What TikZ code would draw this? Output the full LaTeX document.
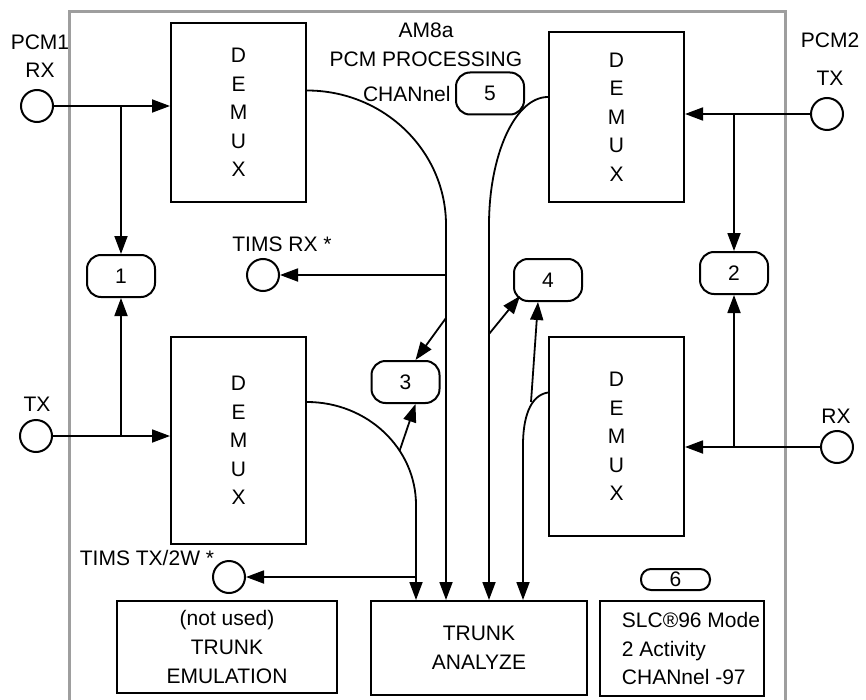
\documentclass[tikz,border=0pt]{standalone}
\usepackage{fontspec}
\setmainfont{Liberation Sans}
\usetikzlibrary{arrows.meta,positioning,calc}

\tikzset{
  sig/.style={-{Triangle[length=9pt,width=6.5pt]},line width=0.9pt},
  blk/.style={draw,line width=1pt,align=center,inner sep=2pt},
  chan/.style={draw,line width=1pt,rounded corners=7pt,
               minimum width=34pt,minimum height=21pt,inner sep=0pt},
  port/.style={draw,circle,line width=1pt,minimum size=16pt,inner sep=0pt},
  txt/.style={align=center,inner sep=0pt},
  frame/.style={draw=black!38,line width=1.5pt}
}

\begin{document}
\begin{tikzpicture}[x=0.5pt,y=-0.5pt,font=\fontsize{10.5}{14.3}\selectfont]
  \useasboundingbox (0,0) rectangle (866,700);
  %% card outline
  \draw[frame] (69,706) -- (69,12) -- (785,12) -- (785,706);

  %% title
  \node[txt] (title) at (426,45) {AM8a\\PCM PROCESSING};

  %% ports
  \node[port] (p1rx) at (37,106) {};
  \node[port] (p1tx) at (36,436) {};
  \node[port] (p2tx) at (827,114) {};
  \node[port] (p2rx) at (837,447) {};
  \node[port] (timsrx) at (263,275) {};
  \node[port] (timstx) at (229,577) {};
  \node[txt] (l1rx) at (40,56) {PCM1\\RX};
  \node[txt] (l1tx) at (37,404) {TX};
  \node[txt] (l2tx) at (830,59) {PCM2\\[4.8pt]TX};
  \node[txt] (l2rx) at (836,416) {RX};
  \node[txt] (ltimsrx) at (282,244) {TIMS RX *};
  \node[txt] (ltimstx) at (147,558) {TIMS TX/2W *};

  %% demux blocks
  \node[blk,minimum width=67.5pt,minimum height=89.5pt] (dmx1) at (238.5,112.5) {D\\E\\M\\U\\X};
  \node[blk,minimum width=67.5pt,minimum height=85pt] (dmx2) at (616.5,117) {D\\E\\M\\U\\X};
  \node[blk,minimum width=67.5pt,minimum height=103.5pt] (dmx3) at (238.5,440.5) {D\\E\\M\\U\\X};
  \node[blk,minimum width=67.5pt,minimum height=99.5pt] (dmx4) at (616.5,436.5) {D\\E\\M\\U\\X};

  %% bottom blocks
  \node[blk,minimum width=110pt,minimum height=46pt] (temu) at (227,647)
        {(not used)\\TRUNK\\EMULATION};
  \node[blk,minimum width=108pt,minimum height=47pt] (tana) at (479,648)
        {TRUNK\\ANALYZE};
  \node[blk,align=left,minimum width=81pt,minimum height=47.5pt] (slc) at (682,648.5)
        {\hspace*{9pt}SLC®96 Mode\\\hspace*{9pt}2 Activity\\\hspace*{9pt}CHANnel -97};

  %% channel selectors
  \node[chan] (n1) at (121,276) {1};
  \node[chan] (n2) at (734,273) {2};
  \node[chan] (n3) at (405.5,382) {3};
  \node[chan] (n4) at (548,280) {4};
  \node[chan] (n5) at (490,93.5) {5};
  \node[chan,minimum width=34.5pt,minimum height=10.5pt,rounded corners=5pt] (n6) at (675.5,579.5) {6};
  \node[txt,anchor=east] (chanl) at ([xshift=-2pt]n5.west) {CHANnel};

  %% inputs
  \draw[sig] (p1rx) -- (p1rx -| dmx1.west);
  \draw[sig] (p1rx -| n1) -- (n1);
  \draw[sig] (p1tx) -- (p1tx -| dmx3.west);
  \draw[sig] (p1tx -| n1) -- (n1);
  \draw[sig] (p2tx) -- (p2tx -| dmx2.east);
  \draw[sig] (p2tx -| n2) -- (n2);
  \draw[sig] (p2rx) -- (p2rx -| dmx4.east);
  \draw[sig] (p2rx -| n2) -- (n2);

  %% demux outputs to trunk analyze
  \coordinate (m1) at (446,225);
  \coordinate (m2) at (489,225);
  \coordinate (m3) at (416,505);
  \coordinate (m4) at (523,445);
  \draw[sig] ([yshift=11pt]dmx1.east) .. controls +(77,0) and +(0,-74) .. (m1)
        -- (m1 |- tana.north);
  \draw[sig] ([yshift=10pt]dmx2.west) .. controls +(-33,0) and +(0,-70) .. (m2)
        -- (m2 |- tana.north);
  \draw[sig] ([yshift=19.25pt]dmx3.east) .. controls +(60,0) and +(0,-57) .. (m3)
        coordinate[pos=0.65] (k3) -- (m3 |- tana.north);
  \draw[sig] ([yshift=22pt]dmx4.west) .. controls +(-19,3) and +(0,-25) .. (m4)
        -- (m4 |- tana.north);

  %% test taps
  \coordinate (j1) at (m1 |- timsrx);
  \draw[sig] (j1) -- (timsrx);
  \draw[sig] (m3 |- timstx) -- (timstx);
  \coordinate (j3) at (446,318);
  \draw[sig] (j3) -- ([xshift=5pt]n3.north);
  \draw[sig] (k3) -- ([xshift=5pt]n3.south);
  \coordinate (j5) at (489,334);
  \draw[sig] (j5) -- ([shift={(3.5pt,3pt)}]n4.south west);
  \coordinate (j4) at (531,402);
  \draw[sig] (j4) -- ([xshift=-5pt]n4.south);
\end{tikzpicture}
\end{document}
